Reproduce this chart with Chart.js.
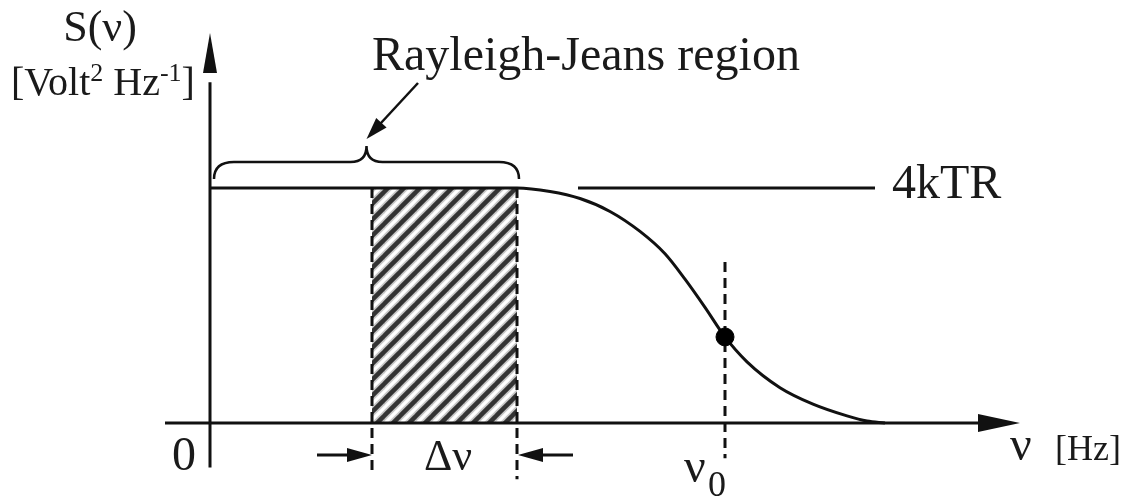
<!DOCTYPE html>
<html>
<head>
<meta charset="utf-8">
<script src="https://cdn.jsdelivr.net/npm/chart.js@4/dist/chart.umd.min.js"></script>
<style>
  html, body { margin: 0; padding: 0; background: #fff; }
</style>
</head>
<body>
<canvas id="myChart" width="1124" height="500"></canvas>
<script>
// S(nu) normalised to 4kTR, frequency in arbitrary units
const curveNu = [0, 3.07, 3.40, 3.70, 4.00, 4.30, 4.55, 4.75, 4.95, 5.15, 5.37, 5.70, 6.03, 6.37, 6.57, 6.75];
const curveS  = [1, 1, 0.985, 0.955, 0.900, 0.815, 0.720, 0.612, 0.492, 0.366, 0.260, 0.150, 0.080, 0.030, 0.008, 0];
const bandNu = [1.62, 3.07];      // edges of the delta-nu strip
const nu0 = 5.15;
const s0 = 0.366;
const levelNu = [3.68, 6.65];     // 4kTR marker line
const levelS = 1;

const SERIF = '"Liberation Serif", "DejaVu Serif", serif';
const INK = '#111';

const canvas = document.getElementById('myChart');
const ctx = canvas.getContext('2d');

function hatchPattern() {
    const tile = document.createElement('canvas');
    tile.width = 16;
    tile.height = 16;
    const t = tile.getContext('2d');
    t.lineCap = 'square';
    [[8, 'rgba(70,70,70,0.3)'], [4.5, '#333']].forEach(function (s) {
        t.lineWidth = s[0];
        t.strokeStyle = s[1];
        [-16, 0, 16].forEach(function (o) {
            t.beginPath();
            t.moveTo(o, 16);
            t.lineTo(o + 16, 0);
            t.stroke();
        });
    });
    return ctx.createPattern(tile, 'repeat');
}

function pts(xs, ys) {
    return xs.map(function (x, i) { return { x: x, y: ys[i] }; });
}

function arrowHead(c, x, y, ang, len, half) {
    c.save();
    c.translate(x, y);
    c.rotate(ang);
    c.beginPath();
    c.moveTo(0, 0);
    c.lineTo(-len, -half);
    c.lineTo(-len, half);
    c.closePath();
    c.fill();
    c.restore();
}

function line(c, x1, y1, x2, y2) {
    c.beginPath();
    c.moveTo(x1, y1);
    c.lineTo(x2, y2);
    c.stroke();
}

const dashed = {
    showLine: true, borderColor: INK, borderWidth: 3, borderDash: [10, 6],
    pointRadius: 0, fill: false, order: 2
};

const decorations = {
    id: 'decorations',
    afterDatasetsDraw(chart) {
        const c = chart.ctx;
        const xs = chart.scales.x, ys = chart.scales.y;
        const ox = xs.getPixelForValue(0), oy = ys.getPixelForValue(0);
        c.save();
        c.strokeStyle = INK;
        c.fillStyle = INK;
        c.lineWidth = 3;

        // axes
        line(c, xs.getPixelForValue(-0.45), oy, xs.getPixelForValue(7.75), oy);
        arrowHead(c, xs.getPixelForValue(8.10), oy, 0, 42, 9);
        line(c, ox, ys.getPixelForValue(-0.19), ox, ys.getPixelForValue(1.45));
        arrowHead(c, ox, ys.getPixelForValue(1.66), -Math.PI / 2, 40, 7);

        // brace over the flat part
        const bx0 = ox + 4, bx1 = xs.getPixelForValue(bandNu[1]) + 2;
        const mid = (bx0 + bx1) / 2;
        const yb = 179, yh = 162, yt = 146;
        c.lineWidth = 2.5;
        c.beginPath();
        c.moveTo(bx0, yb);
        c.quadraticCurveTo(bx0, yh, bx0 + 20, yh);
        c.lineTo(mid - 16, yh);
        c.quadraticCurveTo(mid, yh, mid, yt);
        c.quadraticCurveTo(mid, yh, mid + 16, yh);
        c.lineTo(bx1 - 20, yh);
        c.quadraticCurveTo(bx1, yh, bx1, yb);
        c.stroke();

        // pointer from the label to the brace
        line(c, 418, 83, mid + 8, 130);
        arrowHead(c, mid, 139, Math.atan2(139 - 83, mid - 418), 22, 7);

        // delta-nu arrows
        const lx = xs.getPixelForValue(bandNu[0]), rx = xs.getPixelForValue(bandNu[1]) + 1;
        c.lineWidth = 3;
        line(c, lx - 55, 455, lx - 20, 455);
        arrowHead(c, lx, 455, 0, 25, 7);
        line(c, rx + 55, 455, rx + 20, 455);
        arrowHead(c, rx, 455, Math.PI, 25, 7);

        // text
        c.fillStyle = '#1a1a1a';
        c.textBaseline = 'alphabetic';
        c.textAlign = 'left';
        c.font = '48px ' + SERIF;
        c.fillText('Rayleigh-Jeans region', 372, 70);
        c.fillText('4kTR', 892, 198);
        c.fillText('0', 172, 470);

        c.textAlign = 'center';
        c.font = '44px ' + SERIF;
        c.fillText('S(\u03bd)', 100, 41);
        c.fillText('\u0394\u03bd', 448, 470);

        // [Volt^2 Hz^-1]
        c.textAlign = 'left';
        let x = 11;
        [['[Volt', 40, 0], ['2', 26, -14], [' Hz', 40, 0], ['-1', 26, -14], [']', 40, 0]].forEach(function (p) {
            c.font = p[1] + 'px ' + SERIF;
            c.fillText(p[0], x, 95 + p[2]);
            x += c.measureText(p[0]).width;
        });

        // nu_0 and axis title
        c.font = '48px ' + SERIF;
        c.fillText('\u03bd', 684, 482);
        c.font = '36px ' + SERIF;
        c.fillText('0', 708, 496);
        c.font = '48px ' + SERIF;
        c.fillText('\u03bd', 1010, 460);
        c.font = '36px ' + SERIF;
        c.fillText('[Hz]', 1055, 460);
        c.restore();
    }
};

const myChart = new Chart(ctx, {
    type: 'scatter',
    data: {
        datasets: [
            {
                // hatched delta-nu strip
                data: pts(bandNu, [levelS, levelS]),
                showLine: true, borderColor: 'rgba(0,0,0,0)', borderWidth: 0,
                pointRadius: 0, fill: 'origin', backgroundColor: hatchPattern(), order: 5
            },
            Object.assign({ data: pts([bandNu[0], bandNu[0]], [levelS, -0.21]) }, dashed),
            Object.assign({ data: pts([bandNu[1], bandNu[1]], [levelS, -0.24]) }, dashed),
            Object.assign({ data: pts([nu0, nu0], [0.685, -0.15]) }, dashed),
            {
                // S(nu)
                data: pts(curveNu, curveS),
                showLine: true, borderColor: INK, borderWidth: 3, pointRadius: 0,
                cubicInterpolationMode: 'monotone', fill: false, order: 1
            },
            {
                data: pts(levelNu, [levelS, levelS]),
                showLine: true, borderColor: INK, borderWidth: 3, pointRadius: 0, fill: false, order: 1
            },
            {
                data: [{ x: nu0, y: s0 }],
                showLine: false, pointRadius: 9, pointHoverRadius: 9,
                backgroundColor: '#000', borderColor: '#000', order: 0
            }
        ]
    },
    options: {
        responsive: false,
        animation: false,
        layout: { padding: 0, autoPadding: false },
        plugins: { legend: { display: false }, tooltip: { enabled: false } },
        scales: {
            x: { type: 'linear', min: -2.10, max: 9.14, display: false },
            y: { type: 'linear', min: -0.328, max: 1.80, display: false }
        }
    },
    plugins: [decorations]
});
</script>
</body>
</html>
